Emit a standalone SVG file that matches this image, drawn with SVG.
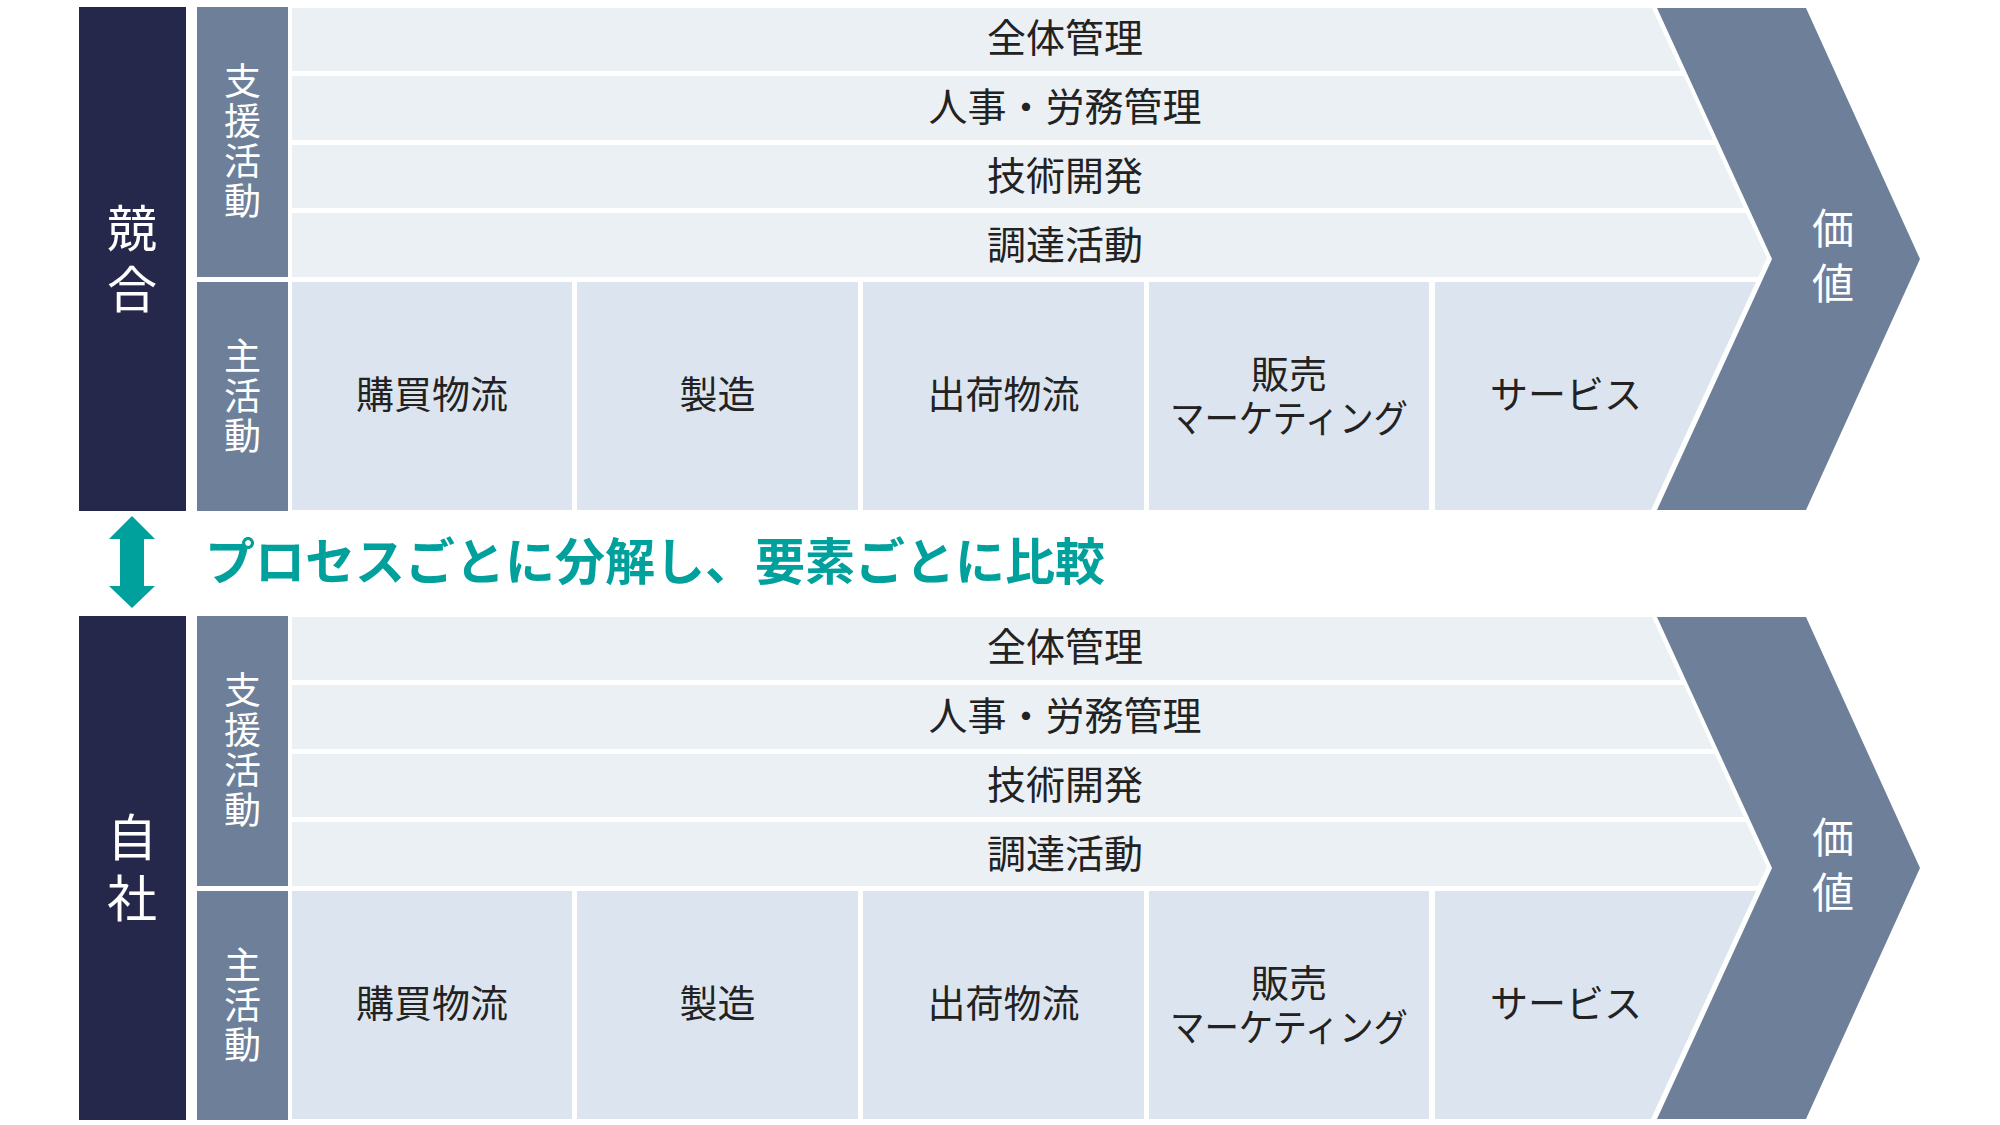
<svg xmlns="http://www.w3.org/2000/svg" width="2000" height="1125" viewBox="0 0 2000 1125">
<defs>
<style>
.navy{fill:#25284a}
.slate{fill:#6e8099}
.sup{fill:#ebf0f5}
.pri{fill:#dce5ef}
.t{font-family:"Noto Sans CJK JP","Noto Sans",sans-serif;fill:#222222;text-anchor:middle}
.w{font-family:"Noto Sans CJK JP","Noto Sans",sans-serif;fill:#ffffff;text-anchor:middle}
.v{font-family:"Noto Sans CJK JP","Noto Sans",sans-serif;fill:#ffffff;text-anchor:middle;writing-mode:vertical-rl}
.teal{font-family:"Noto Sans CJK JP","Noto Sans",sans-serif;fill:#00a09c;font-weight:bold}
</style>
</defs>
<rect width="2000" height="1125" fill="#ffffff"/>

<g id="panel-competitor">
  <g id="comp-label"><rect class="navy" x="79" y="7" width="107" height="504"/>
    <text class="v" font-size="50" letter-spacing="11" x="132" y="264">競合</text></g>
  <g id="comp-support-label"><rect class="slate" x="197" y="7" width="91" height="270"/>
    <text class="v" font-size="37" letter-spacing="3" x="242.5" y="142.5">支援活動</text></g>
  <g id="comp-primary-label"><rect class="slate" x="197" y="282" width="91" height="229"/>
    <text class="v" font-size="37" letter-spacing="3" x="242.5" y="397">主活動</text></g>
  <g id="comp-s1"><polygon class="sup" points="292,8 1652,8 1681,71 292,71"/><text class="t" font-size="39" x="1065" y="51.5">全体管理</text></g>
  <g id="comp-s2"><polygon class="sup" points="292,76 1684,76 1713,140 292,140"/><text class="t" font-size="39" x="1065" y="120.5">人事・労務管理</text></g>
  <g id="comp-s3"><polygon class="sup" points="292,145 1715,145 1744,208 292,208"/><text class="t" font-size="39" x="1065" y="189.5">技術開発</text></g>
  <g id="comp-s4"><polygon class="sup" points="292,213 1746,213 1767,258 1758,277 292,277"/><text class="t" font-size="39" x="1065" y="258.5">調達活動</text></g>
  <g id="comp-p1"><rect class="pri" x="292" y="282" width="280" height="228"/><text class="t" font-size="38" x="432" y="408">購買物流</text></g>
  <g id="comp-p2"><rect class="pri" x="577" y="282" width="281" height="228"/><text class="t" font-size="38" x="717.5" y="408">製造</text></g>
  <g id="comp-p3"><rect class="pri" x="863" y="282" width="281" height="228"/><text class="t" font-size="38" x="1003.5" y="408">出荷物流</text></g>
  <g id="comp-p4"><rect class="pri" x="1149" y="282" width="280" height="228"/><text class="t" font-size="38"><tspan x="1289" y="388">販売</tspan><tspan x="1289" y="432" textLength="238" lengthAdjust="spacingAndGlyphs">マーケティング</tspan></text></g>
  <g id="comp-p5"><polygon class="pri" points="1435,282 1756,282 1651,510 1435,510"/><text class="t" font-size="38" x="1566" y="408">サービス</text></g>
  <g id="comp-value"><polygon class="slate" points="1657,8 1806,8 1920,259 1806,510 1657,510 1772,259"/>
    <text class="v" font-size="42" letter-spacing="12.5" x="1833" y="262">価値</text></g>
</g>

<g id="panel-self" transform="translate(0,609)">
  <g id="self-label"><rect class="navy" x="79" y="7" width="107" height="504"/>
    <text class="v" font-size="50" letter-spacing="11" x="132" y="264">自社</text></g>
  <g id="self-support-label"><rect class="slate" x="197" y="7" width="91" height="270"/>
    <text class="v" font-size="37" letter-spacing="3" x="242.5" y="142.5">支援活動</text></g>
  <g id="self-primary-label"><rect class="slate" x="197" y="282" width="91" height="229"/>
    <text class="v" font-size="37" letter-spacing="3" x="242.5" y="397">主活動</text></g>
  <g id="self-s1"><polygon class="sup" points="292,8 1652,8 1681,71 292,71"/><text class="t" font-size="39" x="1065" y="51.5">全体管理</text></g>
  <g id="self-s2"><polygon class="sup" points="292,76 1684,76 1713,140 292,140"/><text class="t" font-size="39" x="1065" y="120.5">人事・労務管理</text></g>
  <g id="self-s3"><polygon class="sup" points="292,145 1715,145 1744,208 292,208"/><text class="t" font-size="39" x="1065" y="189.5">技術開発</text></g>
  <g id="self-s4"><polygon class="sup" points="292,213 1746,213 1767,258 1758,277 292,277"/><text class="t" font-size="39" x="1065" y="258.5">調達活動</text></g>
  <g id="self-p1"><rect class="pri" x="292" y="282" width="280" height="228"/><text class="t" font-size="38" x="432" y="408">購買物流</text></g>
  <g id="self-p2"><rect class="pri" x="577" y="282" width="281" height="228"/><text class="t" font-size="38" x="717.5" y="408">製造</text></g>
  <g id="self-p3"><rect class="pri" x="863" y="282" width="281" height="228"/><text class="t" font-size="38" x="1003.5" y="408">出荷物流</text></g>
  <g id="self-p4"><rect class="pri" x="1149" y="282" width="280" height="228"/><text class="t" font-size="38"><tspan x="1289" y="388">販売</tspan><tspan x="1289" y="432" textLength="238" lengthAdjust="spacingAndGlyphs">マーケティング</tspan></text></g>
  <g id="self-p5"><polygon class="pri" points="1435,282 1756,282 1651,510 1435,510"/><text class="t" font-size="38" x="1566" y="408">サービス</text></g>
  <g id="self-value"><polygon class="slate" points="1657,8 1806,8 1920,259 1806,510 1657,510 1772,259"/>
    <text class="v" font-size="42" letter-spacing="12.5" x="1833" y="262">価値</text></g>
</g>

<g id="connectors">
  <polygon fill="#00a09c" points="132,516 155,539 144,539 144,586 155,586 132,608 109,586 120,586 120,539 109,539"/>
</g>
<g id="compare-label">
  <text class="teal" font-size="50" x="205" y="579.5">プロセスごとに分解し、要素ごとに比較</text>
</g>
</svg>
